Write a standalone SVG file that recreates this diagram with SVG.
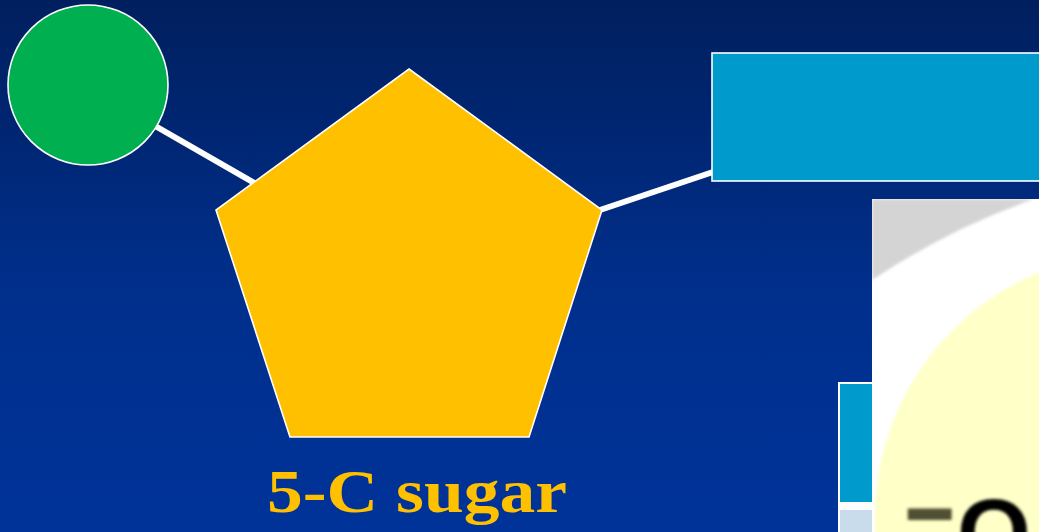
<svg xmlns="http://www.w3.org/2000/svg" width="1039" height="532" viewBox="0 0 1039 532">
  <defs>
    <linearGradient id="bg" x1="0" y1="0" x2="0" y2="1">
      <stop offset="0" stop-color="#001f5e"/>
      <stop offset="0.55" stop-color="#002f8c"/>
      <stop offset="1" stop-color="#003399"/>
    </linearGradient>
    <clipPath id="imgclip">
      <rect x="872" y="199" width="167" height="333"/>
    </clipPath>
    <filter id="soft" x="-10%" y="-10%" width="120%" height="120%">
      <feGaussianBlur stdDeviation="1.6"/>
    </filter>
  </defs>
  <style>
    .shape { stroke: #ffffff; stroke-width: 1.6; }
    .conn { stroke: #ffffff; stroke-width: 6; fill: none; }
    .label { font-family: "Liberation Serif", "DejaVu Serif", serif; font-weight: bold; fill: #ffc000; }
    .formula { font-family: "Liberation Sans", Arial, sans-serif; font-weight: bold; }
  </style>
  <rect x="0" y="0" width="1039" height="532" fill="url(#bg)"/>

  <g id="connectors">
    <line class="conn" x1="150" y1="123" x2="256" y2="184"/>
    <line class="conn" x1="600" y1="210" x2="713" y2="172"/>
  </g>

  <g id="phosphate">
    <circle class="shape" cx="88" cy="85" r="80" fill="#00b050"/>
  </g>

  <g id="sugar">
    <polygon class="shape" points="409,69 602,210 529,437 290,437 216,210" fill="#ffc000"/>
    <text class="label" x="417" y="512" font-size="62" text-anchor="middle" textLength="300" lengthAdjust="spacingAndGlyphs">5-C sugar</text>
  </g>

  <g id="base">
    <rect class="shape" x="712" y="53" width="340" height="128" fill="#009bcc"/>
  </g>

  <g id="small-base">
    <rect x="838" y="382" width="40" height="152" fill="#ffffff"/>
    <rect x="840" y="384" width="36" height="118" fill="#009bcc"/>
    <rect x="840" y="510" width="36" height="24" fill="#c9dcec"/>
  </g>

  <g id="inset" clip-path="url(#imgclip)">
    <rect x="872" y="199" width="167" height="333" fill="#ffffff"/>
    <path d="M872 199 H1034 Q950 228 872 280 Z" fill="#d4d4d4" filter="url(#soft)"/>
    <circle cx="1141" cy="518" r="266" fill="#ffffc8" filter="url(#soft)"/>
    <g filter="url(#soft)">
      <text class="formula" transform="translate(901,539) scale(1.8,1)" font-size="96" fill="#4f4f30">-</text>
      <text class="formula" x="957" y="565" font-size="95" fill="#000000">O</text>
    </g>
  </g>
</svg>
